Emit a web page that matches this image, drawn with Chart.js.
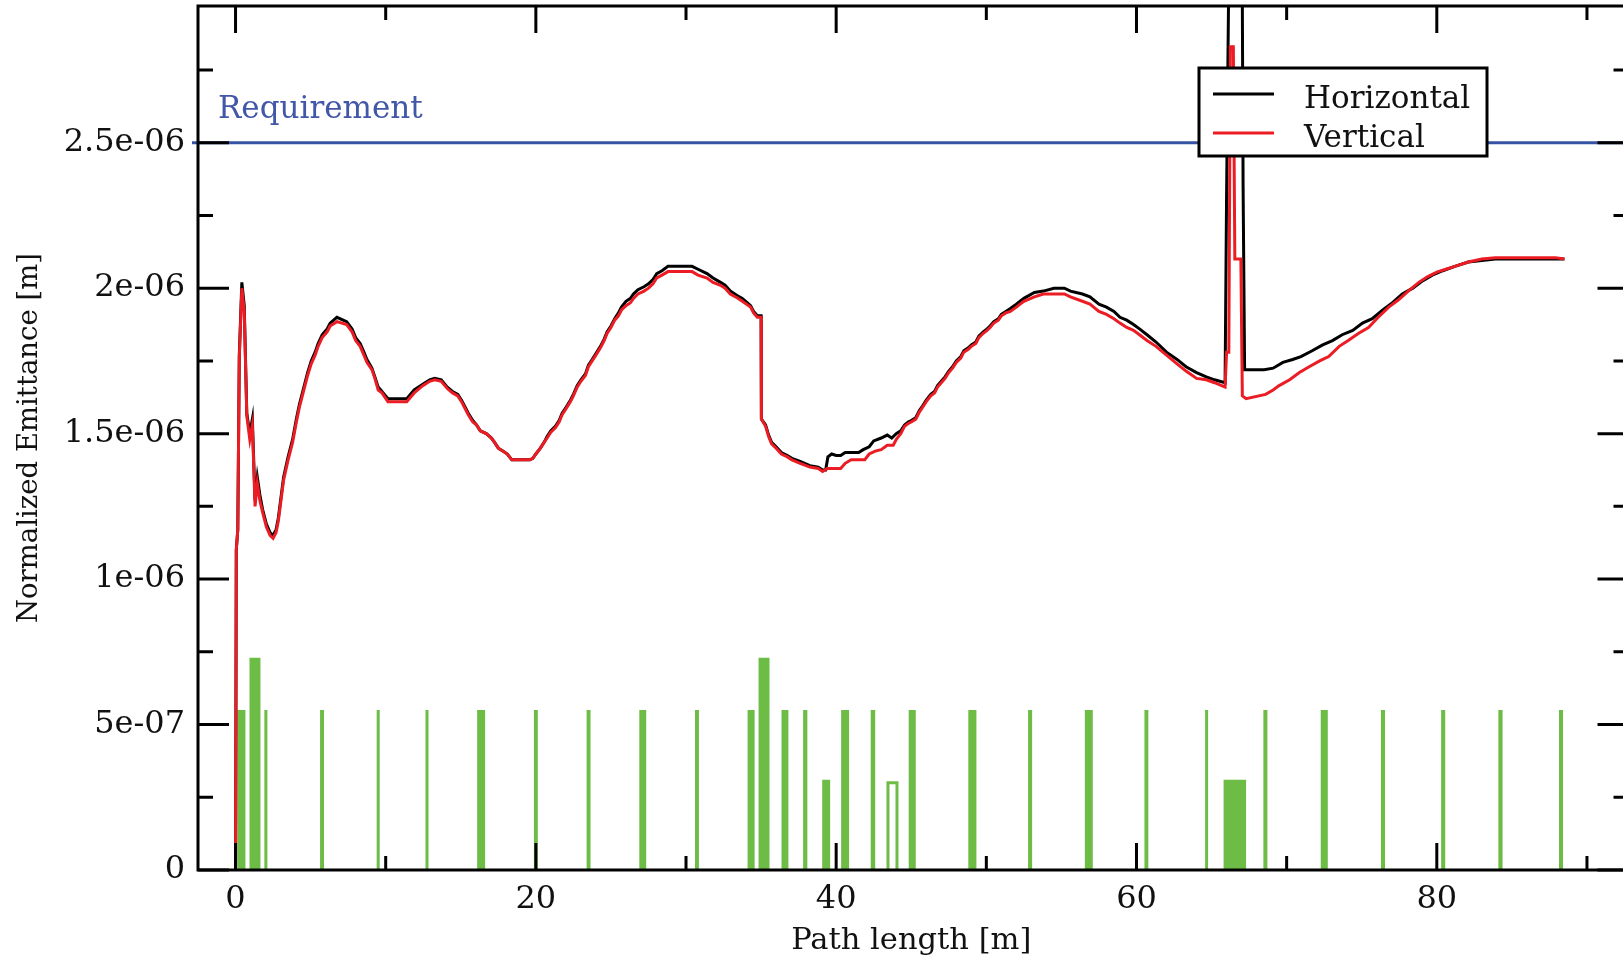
<!DOCTYPE html>
<html>
<head>
<meta charset="utf-8">
<title>Normalized Emittance</title>
<script src="https://cdn.jsdelivr.net/npm/chart.js@4.4.1/dist/chart.umd.min.js"></script>
<style>
  html, body { margin: 0; padding: 0; background: #fff; overflow: hidden; }
  canvas { display: block; }
</style>
</head>
<body>
<canvas id="emitChart" width="1626" height="960"></canvas>
<script>
// emittance values are in units of 1e-6 m, path length in m

// Vertical (red)
var vPath = [0, 0.05, 0.15, 0.25, 0.42, 0.58, 0.75, 0.95, 1.12, 1.3,
    1.45, 1.62, 1.8, 2.05, 2.3, 2.5, 2.7, 2.85, 3.0, 3.2,
    3.5, 3.8, 4.05, 4.25, 4.5, 4.8, 5.04, 5.3, 5.5, 5.77,
    6.1, 6.3, 6.75, 7.4, 7.76, 8.0, 8.3, 8.55, 8.75, 9.08,
    9.28, 9.5, 9.75, 10.15, 11.4, 11.9, 12.47, 12.93, 13.26, 13.7,
    14.1, 14.45, 14.8, 15.05, 15.25, 15.5, 15.8, 16.05, 16.3, 16.7,
    17.04, 17.25, 17.5, 17.8, 18.1, 18.4, 19.6, 19.8, 20.0, 20.3,
    20.55, 20.75, 21.0, 21.3, 21.55, 21.75, 22.0, 22.3, 22.5, 22.75,
    23.0, 23.3, 23.5, 23.75, 24.0, 24.3, 24.55, 24.75, 25.0, 25.25,
    25.5, 25.7, 26.0, 26.3, 26.5, 26.8, 27.2, 27.5, 27.8, 28.05,
    28.4, 28.8, 30.4, 30.8, 31.4, 31.8, 32.3, 32.6, 32.95, 33.4,
    33.75, 34.3, 34.5, 34.75, 35.0, 35.02, 35.3, 35.5, 35.7, 36.0,
    36.35, 36.75, 37.05, 37.6, 38.25, 38.8, 39.1, 39.4, 40.3, 40.6,
    41.0, 41.9, 42.2, 42.6, 43.0, 43.4, 43.8, 44.0, 44.3, 44.55,
    44.8, 45.0, 45.3, 45.55, 45.75, 46.0, 46.3, 46.55, 46.75, 47.0,
    47.25, 47.5, 47.75, 48.0, 48.3, 48.5, 48.8, 49.0, 49.3, 49.5,
    49.8, 50.05, 50.25, 50.5, 50.8, 51.0, 51.3, 51.6, 52.0, 52.25,
    52.5, 53.2, 53.8, 55.2, 55.6, 56.4, 56.9, 57.5, 58.0, 58.5,
    58.9, 59.35, 59.8, 60.2, 60.7, 61.3, 62.0, 62.7, 63.3, 64.0,
    64.65, 65.2, 65.9, 66.0, 66.15, 66.25, 66.45, 66.55, 66.95, 67.05,
    67.3, 68.6, 69.1, 69.5, 70.2, 70.85, 71.5, 72.2, 72.8, 73.5,
    74.1, 74.8, 75.45, 76.1, 76.8, 77.45, 78.1, 78.8, 79.4, 80.0,
    80.6, 81.2, 82.1, 83.0, 83.9, 85.2, 87.9, 88.5];
var vEmit = [0, 1.10, 1.17, 1.76, 2.00, 1.92, 1.56, 1.48, 1.53, 1.25,
    1.33, 1.27, 1.23, 1.18, 1.15, 1.14, 1.16, 1.20, 1.26, 1.34,
    1.41, 1.47, 1.54, 1.59, 1.64, 1.70, 1.74, 1.77, 1.80, 1.83,
    1.85, 1.87, 1.885, 1.875, 1.85, 1.82, 1.80, 1.77, 1.745, 1.72,
    1.69, 1.65, 1.64, 1.61, 1.61, 1.64, 1.665, 1.68, 1.685, 1.68,
    1.655, 1.64, 1.63, 1.61, 1.59, 1.565, 1.54, 1.53, 1.51, 1.50,
    1.485, 1.47, 1.45, 1.44, 1.43, 1.41, 1.41, 1.415, 1.43, 1.45,
    1.47, 1.485, 1.505, 1.52, 1.54, 1.565, 1.585, 1.61, 1.63, 1.66,
    1.68, 1.70, 1.73, 1.75, 1.77, 1.795, 1.82, 1.845, 1.865, 1.89,
    1.905, 1.925, 1.94, 1.95, 1.965, 1.98, 1.99, 2.0, 2.015, 2.035,
    2.045, 2.057, 2.057, 2.045, 2.035, 2.02, 2.01, 2.0, 1.98, 1.967,
    1.955, 1.935, 1.915, 1.90, 1.90, 1.55, 1.525, 1.49, 1.465, 1.45,
    1.43, 1.42, 1.41, 1.398, 1.385, 1.38, 1.37, 1.38, 1.38, 1.398,
    1.41, 1.41, 1.43, 1.44, 1.445, 1.46, 1.46, 1.48, 1.50, 1.525,
    1.535, 1.54, 1.55, 1.575, 1.59, 1.61, 1.63, 1.64, 1.66, 1.675,
    1.69, 1.71, 1.725, 1.745, 1.76, 1.78, 1.79, 1.80, 1.81, 1.83,
    1.845, 1.855, 1.865, 1.88, 1.89, 1.905, 1.915, 1.92, 1.935, 1.945,
    1.955, 1.97, 1.98, 1.98, 1.97, 1.955, 1.945, 1.92, 1.91, 1.895,
    1.88, 1.865, 1.855, 1.84, 1.82, 1.80, 1.77, 1.74, 1.715, 1.69,
    1.685, 1.675, 1.66, 1.78, 1.78, 2.83, 2.83, 2.10, 2.10, 1.63,
    1.62, 1.635, 1.65, 1.665, 1.685, 1.71, 1.73, 1.75, 1.765, 1.80,
    1.82, 1.845, 1.865, 1.90, 1.935, 1.96, 1.99, 2.02, 2.04, 2.055,
    2.065, 2.075, 2.09, 2.10, 2.105, 2.105, 2.105, 2.10];

// Horizontal (black)
var hPath = [0, 0.05, 0.15, 0.25, 0.42, 0.58, 0.75, 0.95, 1.12, 1.3,
    1.45, 1.62, 1.8, 2.05, 2.3, 2.5, 2.7, 2.85, 3.0, 3.2,
    3.5, 3.8, 4.05, 4.25, 4.5, 4.8, 5.04, 5.3, 5.5, 5.77,
    6.1, 6.3, 6.75, 7.4, 7.76, 8.0, 8.3, 8.55, 8.75, 9.08,
    9.28, 9.5, 9.75, 10.15, 11.4, 11.9, 12.47, 12.93, 13.26, 13.7,
    14.1, 14.45, 14.8, 15.05, 15.25, 15.5, 15.8, 16.05, 16.3, 16.7,
    17.04, 17.25, 17.5, 17.8, 18.1, 18.4, 19.6, 19.8, 20.0, 20.3,
    20.55, 20.75, 21.0, 21.3, 21.55, 21.75, 22.0, 22.3, 22.5, 22.75,
    23.0, 23.3, 23.5, 23.75, 24.0, 24.3, 24.55, 24.75, 25.0, 25.25,
    25.5, 25.7, 26.0, 26.3, 26.5, 26.8, 27.2, 27.5, 27.8, 28.05,
    28.4, 28.8, 30.4, 30.8, 31.4, 31.8, 32.3, 32.6, 32.95, 33.4,
    33.75, 34.3, 34.5, 34.75, 35.0, 35.02, 35.3, 35.5, 35.7, 36.0,
    36.35, 36.75, 37.05, 37.6, 38.25, 38.8, 39.1, 39.3, 39.45, 39.7,
    40.0, 40.3, 40.6, 41.5, 41.8, 42.2, 42.5, 43.0, 43.4, 43.7,
    44.0, 44.3, 44.55, 44.8, 45.0, 45.3, 45.55, 45.75, 46.0, 46.3,
    46.55, 46.75, 47.0, 47.25, 47.5, 47.75, 48.0, 48.3, 48.5, 48.8,
    49.0, 49.3, 49.5, 49.8, 50.05, 50.25, 50.5, 50.8, 51.0, 51.3,
    51.6, 52.0, 52.25, 52.5, 53.2, 53.8, 54.5, 55.2, 55.6, 56.4,
    56.9, 57.5, 58.0, 58.5, 58.9, 59.35, 59.8, 60.2, 60.7, 61.3,
    62.0, 62.7, 63.3, 64.0, 64.65, 65.2, 65.9, 66.0, 66.25, 67.0,
    67.1, 67.2, 68.5, 69.1, 69.75, 70.4, 70.95, 71.7, 72.4, 73.05,
    73.7, 74.4, 75.05, 75.7, 76.4, 77.05, 77.7, 78.4, 79.05, 79.7,
    80.4, 81.2, 82.1, 83.0, 83.9, 85.2, 87.9, 88.5];
var hEmit = [0, 1.10, 1.17, 1.77, 2.02, 1.94, 1.57, 1.50, 1.55, 1.27,
    1.35, 1.29, 1.24, 1.19, 1.16, 1.15, 1.17, 1.21, 1.27, 1.35,
    1.42, 1.48, 1.55, 1.60, 1.65, 1.71, 1.75, 1.78, 1.81, 1.84,
    1.86, 1.88, 1.90, 1.885, 1.86, 1.83, 1.81, 1.78, 1.755, 1.725,
    1.695, 1.66, 1.645, 1.62, 1.62, 1.65, 1.67, 1.685, 1.69, 1.685,
    1.66, 1.645, 1.635, 1.615, 1.595, 1.57, 1.545, 1.53, 1.51, 1.50,
    1.485, 1.47, 1.45, 1.44, 1.43, 1.41, 1.41, 1.415, 1.43, 1.45,
    1.47, 1.49, 1.51, 1.525, 1.545, 1.57, 1.59, 1.615, 1.635, 1.665,
    1.685, 1.705, 1.735, 1.755, 1.775, 1.80, 1.825, 1.85, 1.87, 1.895,
    1.915, 1.935, 1.955, 1.965, 1.98, 1.995, 2.005, 2.015, 2.03, 2.05,
    2.06, 2.075, 2.075, 2.065, 2.05, 2.035, 2.02, 2.01, 1.99, 1.975,
    1.965, 1.94, 1.92, 1.905, 1.905, 1.55, 1.53, 1.495, 1.47, 1.455,
    1.435, 1.425, 1.415, 1.405, 1.39, 1.385, 1.375, 1.375, 1.42, 1.43,
    1.425, 1.425, 1.435, 1.435, 1.445, 1.455, 1.475, 1.485, 1.495, 1.485,
    1.50, 1.51, 1.53, 1.54, 1.545, 1.555, 1.58, 1.595, 1.615, 1.635,
    1.645, 1.665, 1.68, 1.695, 1.715, 1.73, 1.75, 1.765, 1.785, 1.795,
    1.805, 1.815, 1.835, 1.85, 1.86, 1.87, 1.885, 1.895, 1.91, 1.92,
    1.93, 1.945, 1.955, 1.965, 1.985, 1.99, 2.0, 2.0, 1.99, 1.98,
    1.97, 1.945, 1.935, 1.92, 1.90, 1.89, 1.875, 1.86, 1.84, 1.815,
    1.78, 1.755, 1.73, 1.71, 1.695, 1.685, 1.675, 2.32, 3.6, 3.6,
    2.35, 1.72, 1.72, 1.725, 1.745, 1.755, 1.765, 1.785, 1.805, 1.82,
    1.84, 1.855, 1.88, 1.895, 1.925, 1.95, 1.98, 2.0, 2.025, 2.045,
    2.06, 2.075, 2.09, 2.095, 2.10, 2.10, 2.10, 2.10];

// beamline elements (green blocks): start, end [m] and drawn height
var magStart = [0.11, 0.93, 1.92, 5.63, 9.40, 12.65, 16.09, 19.87, 23.38, 26.89,
    30.6, 34.1, 34.83, 36.36, 37.8, 39.07, 40.33, 42.3, 44.83, 48.8,
    52.78, 56.56, 60.53, 64.57, 65.8, 68.45, 72.27, 76.28, 80.29, 84.1,
    88.14];
var magEnd = [0.66, 1.66, 2.12, 5.89, 9.60, 12.85, 16.62, 20.13, 23.64, 27.35,
    30.86, 34.57, 35.56, 36.82, 38.08, 39.6, 40.86, 42.6, 45.3, 49.34,
    53.05, 57.09, 60.79, 64.77, 67.3, 68.72, 72.74, 76.55, 80.56, 84.38,
    88.41];
var magHeight = [0.55, 0.73, 0.55, 0.55, 0.55, 0.55, 0.55, 0.55, 0.55, 0.55,
    0.55, 0.55, 0.73, 0.55, 0.55, 0.31, 0.55, 0.55, 0.55, 0.55,
    0.55, 0.55, 0.55, 0.55, 0.31, 0.55, 0.55, 0.55, 0.55, 0.55,
    0.55];
// the one drawn as an open outline
var openStart = [43.45];
var openEnd = [44.05];
var openHeight = [0.30];

var requirement = 2.5;
var yTickLabels = ['0', '5e-07', '1e-06', '1.5e-06', '2e-06', '2.5e-06'];
var seriesNames = ['Horizontal', 'Vertical'];

var FONT = '"DejaVu Serif", "Liberation Serif", serif';
var GREEN = '#6cbc46';
var RED = '#ec1c24';
var BLUE = '#3653a3';

function pairs(xs, ys) {
    return xs.map(function (x, i) { return {x: x, y: ys[i]}; });
}

function blocks(starts, ends, heights) {
    var pts = [];
    starts.forEach(function (s, i) {
        pts.push({x: s, y: 0}, {x: s, y: heights[i]}, {x: ends[i], y: heights[i]}, {x: ends[i], y: 0});
    });
    return pts;
}

// inward tick marks (major + minor) on all four sides, frame, labels, legend
var framePlugin = {
    id: 'framePlugin',
    afterDatasetsDraw: function (chart) {
        var ctx = chart.ctx;
        var a = chart.chartArea;
        var xs = chart.scales.x;
        var ys = chart.scales.y;
        ctx.save();
        ctx.strokeStyle = '#000';
        ctx.lineWidth = 3;
        ctx.beginPath();
        xs.ticks.forEach(function (t) {
            [[t.value, 27], [t.value + 10, 14]].forEach(function (m) {
                if (m[0] > xs.max) return;
                var p = xs.getPixelForValue(m[0]);
                ctx.moveTo(p, a.bottom); ctx.lineTo(p, a.bottom - m[1]);
                ctx.moveTo(p, a.top); ctx.lineTo(p, a.top + m[1]);
            });
        });
        ys.ticks.forEach(function (t) {
            [[t.value, 31], [t.value + 0.25, 15]].forEach(function (m) {
                if (m[0] > ys.max) return;
                var p = ys.getPixelForValue(m[0]);
                ctx.moveTo(a.left, p); ctx.lineTo(a.left + m[1], p);
                ctx.moveTo(a.right, p); ctx.lineTo(a.right - m[1] + 4, p);
            });
        });
        ctx.stroke();
        ctx.strokeRect(a.left, a.top, a.right - a.left, a.bottom - a.top);

        // requirement label
        ctx.font = '31px ' + FONT;
        ctx.fillStyle = '#4257a8';
        ctx.textBaseline = 'alphabetic';
        ctx.fillText('Requirement', a.left + 20, ys.getPixelForValue(requirement) - 25);

        // legend box
        var box = {left: 1199, top: 68, width: 288, height: 88};
        ctx.fillStyle = '#fff';
        ctx.fillRect(box.left, box.top, box.width, box.height);
        ctx.strokeStyle = '#000';
        ctx.lineWidth = 3;
        ctx.strokeRect(box.left, box.top, box.width, box.height);
        var colors = [chart.data.datasets[1].borderColor, chart.data.datasets[0].borderColor];
        seriesNames.forEach(function (name, i) {
            var y = box.top + 26 + i * 39;
            ctx.strokeStyle = colors[i];
            ctx.beginPath();
            ctx.moveTo(box.left + 14, y);
            ctx.lineTo(box.left + 75, y);
            ctx.stroke();
            ctx.fillStyle = '#111';
            ctx.fillText(name, box.left + 105, y + 14);
        });
        ctx.restore();
    }
};

var ctx = document.getElementById('emitChart').getContext('2d');
var emitChart = new Chart(ctx, {
    type: 'line',
    data: {
        datasets: [
            {label: seriesNames[1], data: pairs(vPath, vEmit), borderColor: RED, borderWidth: 3,
                pointRadius: 0, tension: 0, fill: false, order: 0},
            {label: seriesNames[0], data: pairs(hPath, hEmit), borderColor: '#000', borderWidth: 3,
                pointRadius: 0, tension: 0, fill: false, order: 1},
            {label: 'Requirement', data: [{x: -2.9, y: requirement}, {x: 95, y: requirement}],
                borderColor: BLUE, borderWidth: 3, pointRadius: 0, fill: false, order: 2,
                clip: {left: 7, top: 0, right: 0, bottom: 0}},
            {label: 'elements', data: blocks(magStart, magEnd, magHeight), borderColor: 'rgba(0,0,0,0)',
                borderWidth: 1, backgroundColor: GREEN, fill: 'origin', pointRadius: 0, order: 3},
            {label: 'open element', data: blocks(openStart, openEnd, openHeight), borderColor: GREEN,
                borderWidth: 3, fill: false, pointRadius: 0, order: 3}
        ]
    },
    options: {
        responsive: false,
        devicePixelRatio: 1,
        animation: false,
        events: [],
        layout: {padding: {left: 0, right: 1.5, top: 6, bottom: 0}},
        plugins: {
            legend: {display: false},
            tooltip: {enabled: false}
        },
        scales: {
            x: {
                type: 'linear',
                min: -2.5,
                max: 92.5,
                afterFit: function (scale) {
                    scale.height = 90;
                    scale.paddingLeft = 0;
                    scale.paddingRight = 0;
                },
                grid: {display: false},
                border: {display: false},
                ticks: {
                    stepSize: 20,
                    includeBounds: false,
                    maxRotation: 0,
                    autoSkip: false,
                    padding: 2,
                    color: '#111',
                    font: {family: FONT, size: 32}
                },
                title: {
                    display: true,
                    text: 'Path length [m]',
                    color: '#111',
                    font: {family: FONT, size: 30.5},
                    padding: {top: 0, bottom: 1}
                }
            },
            y: {
                type: 'linear',
                min: 0,
                max: 2.97,
                afterFit: function (scale) {
                    scale.width = 198;
                    scale.paddingTop = 0;
                    scale.paddingBottom = 0;
                },
                grid: {display: false},
                border: {display: false},
                ticks: {
                    stepSize: 0.5,
                    includeBounds: false,
                    padding: 5,
                    color: '#111',
                    font: {family: FONT, size: 32},
                    callback: function (value, index) { return yTickLabels[index]; }
                },
                title: {
                    display: true,
                    text: 'Normalized Emittance [m]',
                    color: '#111',
                    font: {family: FONT, size: 27.5},
                    padding: {top: 13, bottom: 0}
                }
            }
        }
    },
    plugins: [framePlugin]
});
</script>
</body>
</html>
